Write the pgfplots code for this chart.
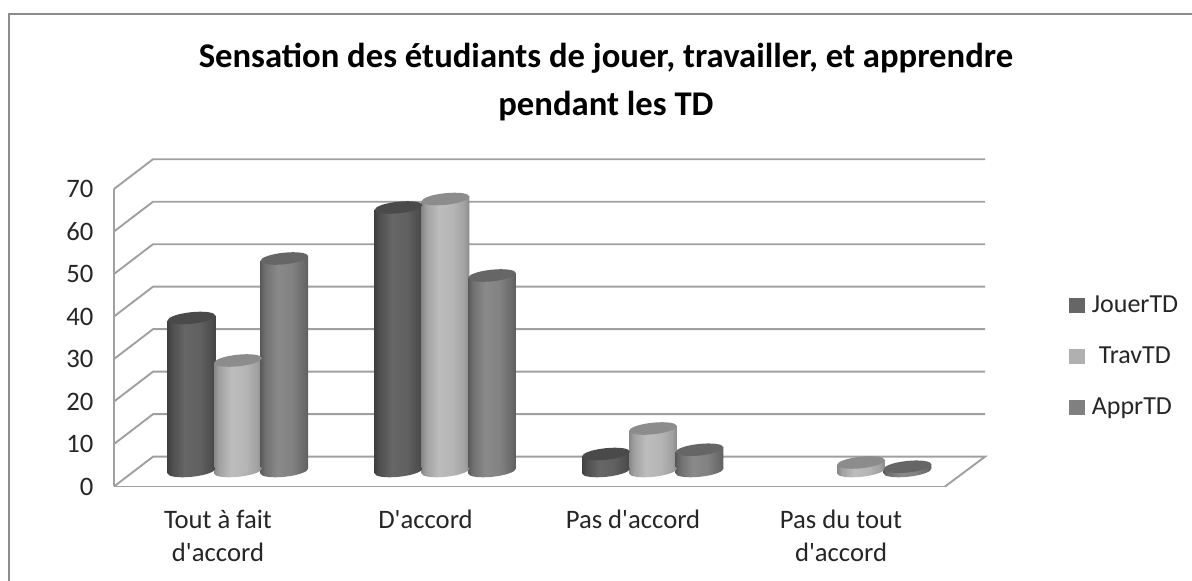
\documentclass[border=0pt]{standalone}
\usepackage{pgfplots}
\pgfplotsset{compat=1.18}
\usepackage{fontspec}
\setmainfont{Carlito}
\newlength{\pxu}\setlength{\pxu}{0.75pt}
\definecolor{gridc}{HTML}{A0A0A0}
\definecolor{frameC}{HTML}{8C8C8C}
\definecolor{capD}{HTML}{4A4A4A}
\definecolor{capT}{HTML}{8C8C8C}
\definecolor{capA}{HTML}{666666}
\definecolor{legD}{HTML}{666666}
\definecolor{legT}{HTML}{B0B0B0}
\definecolor{legA}{HTML}{808080}
\newcommand\mkshade[7]{\pgfdeclarehorizontalshading{#1}{100bp}{color(0bp)=(black!#2);color(25bp)=(black!#2);color(30bp)=(black!#3);color(43bp)=(black!#4);color(58bp)=(black!#5);color(70bp)=(black!#6);color(75bp)=(black!#7);color(100bp)=(black!#7)}}
\mkshade{cylD}{75}{69}{60}{62}{69}{73}
\mkshade{cylT}{47}{37}{26}{29}{37}{46}
\mkshade{cylA}{65}{56}{46}{49}{58}{63}
\newcommand\mkmarks[2]{%
\pgfdeclareplotmark{bot#1}{\path[draw=none,shading=cyl#1] (0pt,0pt) ellipse [x radius=24\pxu, y radius=5.8\pxu, rotate=6];}%
\pgfdeclareplotmark{top#1}{\path[draw=none,fill=#2] (0pt,0pt) ellipse [x radius=24\pxu, y radius=5.8\pxu, rotate=6];}}
\mkmarks{D}{capD}\mkmarks{T}{capT}\mkmarks{A}{capA}
% x: pixel centre, v: value, #3: D/T/A
\newcommand\cyl[3]{%
\pgfmathsetmacro\xl{#1-23.9}\pgfmathsetmacro\xr{#1+23.9}%
\pgfmathsetmacro\ya{#2-0.59}\pgfmathsetmacro\yb{#2+0.59}%
\edef\temp{\noexpand\addplot[forget plot,only marks,mark=bot#3] coordinates {(#1,0)};
\noexpand\addplot[forget plot,draw=none,shading=cyl#3] coordinates {(\xl,\ya)(\xr,\yb)(\xr,0.59)(\xl,-0.59)} -- cycle;
\noexpand\addplot[forget plot,only marks,mark=top#3] coordinates {(#1,#2)};}\temp}
\begin{document}
\begin{tikzpicture}
\useasboundingbox (0,0) rectangle (1192\pxu,581\pxu);
\fill[white] (0,0) rectangle (1192\pxu,581\pxu);
\draw[frameC,line width=1.4\pxu] (9\pxu,0) -- (9\pxu,567\pxu) -- (1192\pxu,567\pxu);
\begin{axis}[
  at={(114\pxu,94.5\pxu)},anchor=south west,
  scale only axis,width=831\pxu,height=297.5\pxu,
  xmin=114,xmax=945,ymin=-3.647,ymax=66.353,
  clip=false,
  axis x line*=bottom,axis y line*=left,
  axis line style={gridc,line width=1.9\pxu,-},
  tick style={draw=none},
  ytick={-3.647,6.353,16.353,26.353,36.353,46.353,56.353,66.353},
  yticklabels={0,10,20,30,40,50,60,70},
  xtick={218,425.5,633,841},
  xticklabels={{Tout à fait\\d\textquotesingle accord},{D\textquotesingle accord},{Pas d\textquotesingle accord},{Pas du tout\\d\textquotesingle accord}},
  every tick label/.append style={font=\fontsize{20pt}{24.5pt}\selectfont,text=black!85},
  xticklabel style={align=center,anchor=north,yshift=-19\pxu},
  yticklabel style={xshift=-16\pxu},
  title={Sensation des étudiants de jouer, travailler, et apprendre\\pendant les TD},
  title style={at={(0.592,1.333)},anchor=center,align=center,font=\fontsize{26pt}{36pt}\selectfont\bfseries},
  legend style={at={(1011\pxu,130\pxu)},anchor=center,draw=none,fill=none,row sep=27\pxu,
    font=\fontsize{19.5pt}{20pt}\selectfont,text=black!85,inner sep=0pt},
  legend cell align=left,
  legend image code/.code={\fill[#1] (0pt,-7\pxu) rectangle (14.5\pxu,7\pxu);},
]
% back wall and floor
\addplot[forget plot,gridc,line width=1.9\pxu] coordinates {(114,-3.647)(153,3.365)(985,3.365)(945,-3.647)};
\addplot[forget plot,gridc,line width=1.9\pxu] coordinates {(114,6.353)(153,13.365)(985,13.365)};
\addplot[forget plot,gridc,line width=1.9\pxu] coordinates {(114,16.353)(153,23.365)(985,23.365)};
\addplot[forget plot,gridc,line width=1.9\pxu] coordinates {(114,26.353)(153,33.365)(985,33.365)};
\addplot[forget plot,gridc,line width=1.9\pxu] coordinates {(114,36.353)(153,43.365)(985,43.365)};
\addplot[forget plot,gridc,line width=1.9\pxu] coordinates {(114,46.353)(153,53.365)(985,53.365)};
\addplot[forget plot,gridc,line width=1.9\pxu] coordinates {(114,56.353)(153,63.365)(985,63.365)};
\addplot[forget plot,gridc,line width=1.9\pxu] coordinates {(114,66.353)(153,73.365)(985,73.365)};
% cylinders: JouerTD, TravTD, ApprTD
\cyl{191.5}{36}{D}\cyl{238}{26}{T}\cyl{284.3}{50}{A}
\cyl{398.5}{62}{D}\cyl{445.5}{64}{T}\cyl{492}{46}{A}
\cyl{606}{4}{D}\cyl{653}{10}{T}\cyl{699.5}{5}{A}
\cyl{861}{2}{T}\cyl{907.5}{1}{A}
\addlegendimage{legD}\addlegendentry{\hspace{5\pxu}JouerTD}
\addlegendimage{legT}\addlegendentry{\hspace{12\pxu}TravTD}
\addlegendimage{legA}\addlegendentry{\hspace{5\pxu}ApprTD}
\end{axis}
\end{tikzpicture}
\end{document}
